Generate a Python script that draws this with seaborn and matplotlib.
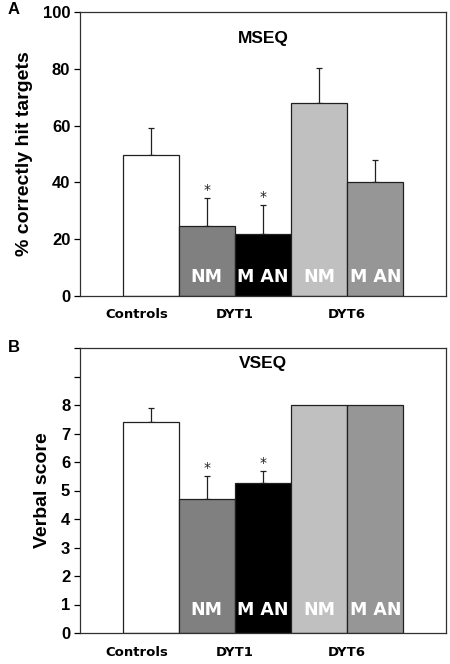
import pandas as pd
import matplotlib
matplotlib.use("Agg")
import matplotlib.pyplot as plt
import seaborn as sns

# bar data
groups = ["Controls", "DYT1 NM", "DYT1 MAN", "DYT6 NM", "DYT6 MAN"]
bar_colors = ["#ffffff", "#808080", "#000000", "#c0c0c0", "#969696"]
inner_labels = ["", "NM", "M AN", "NM", "M AN"]

mseq_mean = [49.5, 24.5, 22.0, 68.0, 40.0]
mseq_err = [9.7, 10.0, 10.0, 12.2, 8.0]
mseq_star = [False, True, True, False, False]

vseq_mean = [7.41, 4.70, 5.28, 8.0, 8.0]
vseq_err = [0.5, 0.8, 0.42, 0.0, 0.0]
vseq_star = [False, True, True, False, False]

cat_labels = ["Controls", "DYT1", "DYT6"]
cat_pos = [-0.25, 1.5, 3.5]

sns.set_style("white")
plt.rcParams["font.family"] = ["Liberation Sans", "DejaVu Sans"]
plt.rcParams["text.color"] = "black"
plt.rcParams["axes.labelcolor"] = "black"
plt.rcParams["xtick.color"] = "black"
plt.rcParams["ytick.color"] = "black"

fig = plt.figure(figsize=(4.5, 6.64), dpi=100)
ax_a = fig.add_axes([80 / 450, 1 - 296 / 664, 366 / 450, 284 / 664])
ax_b = fig.add_axes([80 / 450, 1 - 633 / 664, 366 / 450, 285 / 664])


def panel(ax, means, errs, stars, title, ylabel, ymax, yticks, ylabels,
          star_gap, text_y, title_y):
    df = pd.DataFrame({"group": groups, "value": means})
    sns.barplot(data=df, x="group", y="value", hue="group", palette=bar_colors,
                width=1.0, edgecolor="#202020", linewidth=0.9, legend=False,
                ax=ax, zorder=2)
    xs = range(len(groups))
    for x, m, e in zip(xs, means, errs):
        if e > 0:
            ax.errorbar(x, m, yerr=[[0], [e]], fmt="none", ecolor="#202020",
                        elinewidth=0.9, capsize=2.5, capthick=0.9, zorder=1)
    for x, m, e, s in zip(xs, means, errs, stars):
        if s:
            ax.text(x, m + e + star_gap, "*", ha="center", va="center",
                    fontsize=10, family="DejaVu Sans", color="#202020")
    for x, lab in zip(xs, inner_labels):
        if lab:
            ax.text(x, text_y, lab, ha="center", va="center", color="white",
                    fontsize=12.5, fontweight="bold", family="DejaVu Sans",
                    zorder=4)
    ax.set_xlim(-1.26, 5.26)
    ax.set_ylim(0, ymax)
    ax.set_yticks(yticks, ylabels)
    ax.set_xticks(cat_pos, cat_labels)
    ax.tick_params(axis="x", length=0, pad=9, labelsize=9.5)
    for t in ax.get_xticklabels():
        t.set_fontweight("bold")
        t.set_family("DejaVu Sans")
    ax.tick_params(axis="y", length=4, width=0.9, direction="out", left=True,
                   labelsize=12, pad=3)
    for t in ax.get_yticklabels():
        t.set_fontweight("bold")
    ax.set_xlabel("")
    ax.set_ylabel(ylabel, fontsize=14, fontweight="bold", labelpad=7)
    for sp in ax.spines.values():
        sp.set_visible(True)
        sp.set_color("#303030")
        sp.set_linewidth(0.9)
    ax.text(0.5, title_y, title, transform=ax.transAxes, ha="center",
            va="center", fontsize=12.5, fontweight="bold")


panel(ax_a, mseq_mean, mseq_err, mseq_star, "MSEQ", "% correctly hit targets",
      100, [0, 20, 40, 60, 80, 100], ["0", "20", "40", "60", "80", "100"],
      2.8, 6.8, 0.905)
panel(ax_b, vseq_mean, vseq_err, vseq_star, "VSEQ", "Verbal score",
      10, list(range(11)), [str(i) for i in range(9)] + ["", ""],
      0.28, 0.8, 0.947)

fig.text(8 / 450, 1 - 10 / 664, "A", fontsize=12, fontweight="bold",
         va="center", ha="left")
fig.text(8 / 450, 1 - 348 / 664, "B", fontsize=12, fontweight="bold",
         va="center", ha="left")

fig.savefig("out.png", dpi=100)
